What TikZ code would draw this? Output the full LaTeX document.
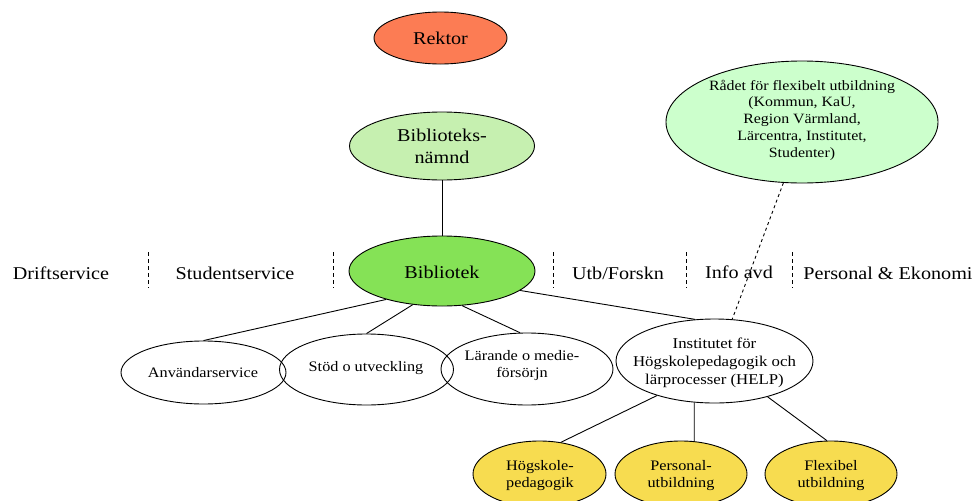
\documentclass[tikz,border=0pt]{standalone}
\usepackage{fontspec}
\setmainfont{Liberation Serif}[FakeStretch=1.12]
\usetikzlibrary{shapes.geometric}
\definecolor{rekfill}{RGB}{252,124,84}
\definecolor{nmdfill}{RGB}{198,240,176}
\definecolor{bibfill}{RGB}{133,226,86}
\definecolor{radfill}{RGB}{204,255,204}
\definecolor{yelfill}{RGB}{247,220,80}
\begin{document}
\begin{tikzpicture}[x=1pt,y=-1pt,
  ell/.style={ellipse, draw, line width=0.9pt, inner sep=0pt},
  conn/.style={line width=0.9pt},
  sepline/.style={line width=0.8pt, dash pattern=on 4pt off 3pt},
  big/.style={font=\fontsize{18}{21.7}\selectfont, align=center, inner sep=0pt},
  sm/.style={font=\fontsize{14.5}{17}\selectfont, align=center, inner sep=0pt},
  inst/.style={font=\fontsize{15}{18.3}\selectfont, align=center, inner sep=0pt},
  rad/.style={font=\fontsize{14.2}{16.7}\selectfont, align=center, inner sep=0pt}]
\useasboundingbox (0,0) rectangle (978,501);

% ellipses
\node[ell, fill=rekfill, minimum width=133pt, minimum height=52pt] (rek) at (440.5,38) {};
\node[ell, fill=nmdfill, minimum width=185pt, minimum height=68pt] (nmd) at (442,146) {};
\node[ell, fill=bibfill, minimum width=186pt, minimum height=70pt] (bib) at (442,271) {};
\node[ell, fill=radfill, minimum width=272pt, minimum height=122pt] (rad) at (802,122) {};
\node[ell, minimum width=165pt, minimum height=63pt] (anv) at (203.5,372.5) {};
\node[ell, minimum width=174pt, minimum height=71pt] (std) at (366.5,369.5) {};
\node[ell, minimum width=172pt, minimum height=72pt] (lar) at (527,369) {};
\node[ell, minimum width=197pt, minimum height=84pt] (ins) at (714.5,361) {};
\node[ell, fill=yelfill, minimum width=133pt, minimum height=66pt] (hog) at (539.5,474) {};
\node[ell, fill=yelfill, minimum width=132pt, minimum height=66pt] (per) at (681,474) {};
\node[ell, fill=yelfill, minimum width=132pt, minimum height=66pt] (flx) at (831,474) {};

% texts
\node[big] (rekT) at (440.5,38) {Rektor};
\node[big] (nmdT) at (442,146) {Biblioteks-\\nämnd};
\node[big] (bibT) at (442,272) {Bibliotek};
\node[rad] (radT) at (802,120) {Rådet för flexibelt utbildning\\(Kommun, KaU,\\Region Värmland,\\Lärcentra, Institutet,\\Studenter)};
\node[sm] (anvT) at (203,373) {Användarservice};
\node[sm] (stdT) at (366,368) {Stöd o utveckling};
\node[sm] (larT) at (522,366) {Lärande o medie-\\försörjn};
\node[inst] (insT) at (714.5,363) {Institutet för\\Högskolepedagogik och\\lärprocesser (HELP)};
\node[sm] (hogT) at (540,476) {Högskole-\\pedagogik};
\node[sm] (perT) at (681,476) {Personal-\\utbildning};
\node[sm] (flxT) at (831,476) {Flexibel\\utbildning};

% side labels
\node[big] (drf) at (61,273) {Driftservice};
\node[big] (stu) at (235,273) {Studentservice};
\node[big] (utb) at (618,273) {Utb/Forskn};
\node[big] (inf) at (739,272) {Info avd};
\node[big] (pek) at (888,273) {Personal \& Ekonomi};

% separators
\foreach \sx in {148,333,553,686,792}
  \draw[sepline] (\sx,252) -- (\sx,288);

% connectors
\draw[conn] (nmd.south) -- (bib.north);
\draw[conn] (bib.207) -- (anv.north);
\draw[conn] (bib.229) -- (std.north);
\draw[conn] (bib.300) -- (lar.101);
\draw[conn] (bib.346) -- (ins.115);
\draw[conn] (ins.211) -- (hog.56);
\draw[conn] (ins.244) -- (per.68);
\draw[conn] (ins.326) -- (flx.97);
\draw[conn, dashed] (rad.253) -- (ins.67);
\end{tikzpicture}
\end{document}
